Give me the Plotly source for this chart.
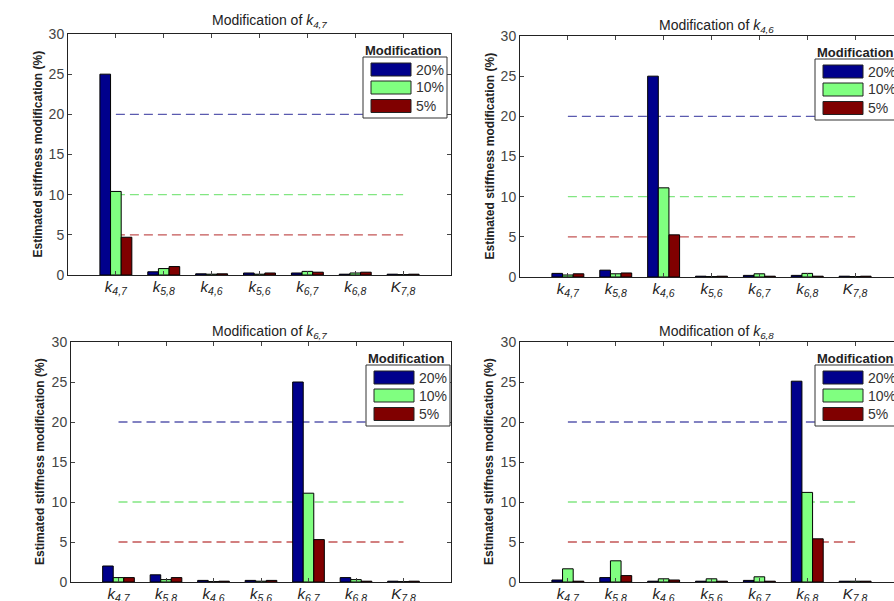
import plotly.graph_objects as go

W, H = 894, 601

# ---------------- data ----------------
categories = ["k4,7", "k5,8", "k4,6", "k5,6", "k6,7", "k6,8", "K7,8"]
series_names = ["20%", "10%", "5%"]
reference_levels = [20, 10, 5]
panel_titles = ["4,7", "4,6", "6,7", "6,8"]

# Modification of k4,7
k47_20 = [25.0, 0.4, 0.15, 0.25, 0.25, 0.1, 0.1]
k47_10 = [10.4, 0.8, 0.1, 0.1, 0.45, 0.25, 0.05]
k47_5 = [4.7, 1.05, 0.15, 0.25, 0.35, 0.35, 0.1]
# Modification of k4,6
k46_20 = [0.45, 0.85, 25.0, 0.1, 0.2, 0.2, 0.1]
k46_10 = [0.25, 0.4, 11.1, 0.05, 0.4, 0.45, 0.05]
k46_5 = [0.4, 0.5, 5.25, 0.1, 0.1, 0.1, 0.1]
# Modification of k6,7
k67_20 = [2.0, 0.9, 0.2, 0.2, 25.0, 0.55, 0.1]
k67_10 = [0.55, 0.3, 0.05, 0.1, 11.1, 0.3, 0.05]
k67_5 = [0.55, 0.55, 0.1, 0.2, 5.3, 0.1, 0.1]
# Modification of k6,8
k68_20 = [0.25, 0.55, 0.1, 0.1, 0.2, 25.1, 0.1]
k68_10 = [1.65, 2.65, 0.4, 0.4, 0.65, 11.2, 0.1]
k68_5 = [0.1, 0.8, 0.25, 0.1, 0.1, 5.4, 0.1]

panel_values = [
    (k47_20, k47_10, k47_5),
    (k46_20, k46_10, k46_5),
    (k67_20, k67_10, k67_5),
    (k68_20, k68_10, k68_5),
]

# ---------------- style ----------------
bar_colors = ["#00008c", "#80ff80", "#800000"]
line_colors = ["rgb(90,90,175)", "rgb(130,230,130)", "rgb(195,85,85)"]
FONT = "Liberation Sans, Arial, sans-serif"

# pixel boxes of the four axes: left, right, top, bottom
boxes = [
    (68, 451, 34, 275),
    (520, 903, 36, 277),
    (71, 451, 342, 582),
    (520, 903, 342, 582),
]
title_pos = [(269, 21), (716, 26), (269, 332), (716, 332)]

x_idx = list(range(1, len(categories) + 1))


def tick_label(c):
    return "<i>%s<sub>%s</sub></i>" % (c[0], c[1:])


tick_text = [tick_label(c) for c in categories]

fig = go.Figure()
shapes = []
annotations = []
layout = {}

for p, (vals, box, tpos, tsub) in enumerate(zip(panel_values, boxes, title_pos, panel_titles)):
    n = "" if p == 0 else str(p + 1)
    xa, ya = "x" + n, "y" + n
    x0, x1, t, b = box
    vis_x1 = min(x1, W)
    xmax = 8 * (vis_x1 - x0) / (x1 - x0)
    clipped = x1 > W

    for s, (name, v) in enumerate(zip(series_names, vals)):
        fig.add_trace(go.Bar(
            x=x_idx, y=v, name=name, xaxis=xa, yaxis=ya,
            marker=dict(color=bar_colors[s], line=dict(color="black", width=1)),
            showlegend=False,
        ))

    # reference levels (dashed) drawn under bars in data coordinates
    for lvl, col in zip(reference_levels, line_colors):
        shapes.append(dict(type="line", xref=xa, yref=ya,
                           x0=x_idx[0], x1=x_idx[-1], y0=lvl, y1=lvl,
                           line=dict(color=col, width=1.3, dash="9px,5px"),
                           layer="below"))

    layout["xaxis" + n] = dict(
        domain=[x0 / W, vis_x1 / W], anchor=ya, range=[0, xmax],
        tickvals=x_idx, ticktext=tick_text, ticks="inside", ticklen=4,
        showline=True, linecolor="#222", linewidth=1, mirror="ticks",
        showgrid=False, zeroline=False, automargin=False,
        ticklabelstandoff=-2,
        tickfont=dict(family=FONT, size=15, color="#222"),
    )
    layout["yaxis" + n] = dict(
        domain=[1 - b / H, 1 - t / H], anchor=xa, range=[0, 30],
        tickvals=[0, 5, 10, 15, 20, 25, 30], ticks="inside", ticklen=4,
        showline=True, linecolor="#222", linewidth=1,
        mirror=False if clipped else "ticks",
        showgrid=False, zeroline=False, automargin=False,
        tickfont=dict(family=FONT, size=14, color="#444"),
    )

    # panel title
    annotations.append(dict(
        text="Modification of <i>k<sub>%s</sub></i>" % tsub,
        x=tpos[0] / W, y=1 - tpos[1] / H, xref="paper", yref="paper",
        xanchor="center", yanchor="middle", showarrow=False,
        font=dict(family=FONT, size=14, color="#222")))
    # y axis title
    annotations.append(dict(
        text="<b>Estimated stiffness modification (%)</b>",
        x=(x0 - 31) / W, y=1 - (t + b) / 2 / H, xref="paper", yref="paper",
        xanchor="center", yanchor="middle", textangle=-90, showarrow=False,
        font=dict(family=FONT, size=12, color="#222")))

    # legend box
    shapes.append(dict(type="rect", xref="paper", yref="paper",
                       x0=(x0 + 295) / W, x1=(x0 + 379) / W,
                       y0=1 - (t + 84) / H, y1=1 - (t + 23) / H,
                       fillcolor="white", line=dict(color="#333", width=1),
                       layer="above"))
    annotations.append(dict(
        text="<b>Modification</b>", x=(x0 + 335) / W, y=1 - (t + 16) / H,
        xref="paper", yref="paper", xanchor="center", yanchor="middle",
        showarrow=False, font=dict(family=FONT, size=13, color="#222")))
    for s, (name, cy) in enumerate(zip(series_names, [35.5, 53.5, 72])):
        shapes.append(dict(type="rect", xref="paper", yref="paper",
                           x0=(x0 + 303) / W, x1=(x0 + 343) / W,
                           y0=1 - (t + cy + 6.5) / H, y1=1 - (t + cy - 6.5) / H,
                           fillcolor=bar_colors[s], line=dict(color="#222", width=1),
                           layer="above"))
        annotations.append(dict(
            text=name, x=(x0 + 346) / W, y=1 - (t + cy) / H,
            xref="paper", yref="paper", xanchor="left", yanchor="middle",
            showarrow=False, font=dict(family=FONT, size=14, color="#333")))

fig.update_layout(
    width=W, height=H,
    margin=dict(l=0, r=0, t=0, b=0, pad=0, autoexpand=False),
    paper_bgcolor="white", plot_bgcolor="white",
    barmode="group", bargap=1 / 3, bargroupgap=0,
    shapes=shapes, annotations=annotations,
    showlegend=False,
    **layout,
)

fig.write_html(
    "out.html",
    config={"displayModeBar": False},
    post_script="document.body.style.margin='0';document.body.style.overflow='hidden';",
)
